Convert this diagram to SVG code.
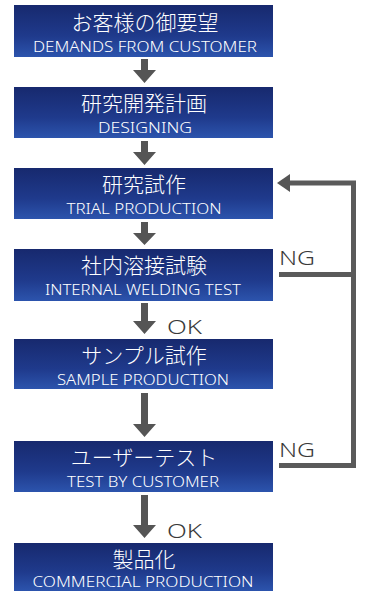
<svg xmlns="http://www.w3.org/2000/svg" width="365" height="592" viewBox="0 0 365 592">
<defs>
<linearGradient id="g" x1="0" y1="0" x2="0" y2="1">
<stop offset="0" stop-color="#17296e"/>
<stop offset="0.6" stop-color="#1f3a8c"/>
<stop offset="1" stop-color="#2c54ad"/>
</linearGradient>
<style>
.box{fill:url(#g);}
.jp{font-family:"Noto Sans CJK JP","Noto Sans",sans-serif;font-size:21px;font-weight:300;fill:#fff;text-anchor:middle;}
.en{font-family:"Noto Sans","Liberation Sans",sans-serif;font-size:15px;font-weight:300;fill:#fff;text-anchor:middle;}
.lbl{font-family:"Noto Sans","Liberation Sans",sans-serif;font-size:20px;font-weight:300;fill:#3a3a3a;}
.ar{fill:#555;}
.ln{fill:none;stroke:#5a5a5a;stroke-width:5;}
</style>
</defs>
<rect width="365" height="592" fill="#fff"/>
<g id="connectors">
<polygon class="ar" points="141,59 148,59 148,70 156,70 144.5,83 133,70 141,70"/>
<polygon class="ar" points="141,141 148,141 148,152 156,152 144.5,165 133,152 141,152"/>
<polygon class="ar" points="141,222 148,222 148,233 156,233 144.5,245 133,233 141,233"/>
<polygon class="ar" points="141,303 148,303 148,321 156,321 144.5,334 133,321 141,321"/>
<polygon class="ar" points="141,393 148,393 148,424 156,424 144.5,437 133,424 141,424"/>
<polygon class="ar" points="141,495 148,495 148,525 156,525 144.5,538 133,525 141,525"/>
<path class="ln" d="M279,465.5 H353.5 V183 H289"/>
<path class="ln" d="M279,274.5 H353.5"/>
<polygon class="ar" points="277,183 290,174 290,192"/>
<text class="lbl" x="167" y="334" textLength="35" lengthAdjust="spacingAndGlyphs">OK</text>
<text class="lbl" x="167" y="538" textLength="35" lengthAdjust="spacingAndGlyphs">OK</text>
<text class="lbl" x="279" y="265" textLength="36" lengthAdjust="spacingAndGlyphs">NG</text>
<text class="lbl" x="279" y="457" textLength="36" lengthAdjust="spacingAndGlyphs">NG</text>
</g>
<g id="n1"><rect class="box" x="14" y="5" width="259" height="52"/><text class="jp" x="145" y="30">お客様の御要望</text><text class="en" x="145" y="51.5" textLength="224" lengthAdjust="spacingAndGlyphs">DEMANDS FROM CUSTOMER</text></g>
<g id="n2"><rect class="box" x="14" y="87" width="259" height="51"/><text class="jp" x="144" y="111">研究開発計画</text><text class="en" x="145" y="132.5" textLength="94" lengthAdjust="spacingAndGlyphs">DESIGNING</text></g>
<g id="n3"><rect class="box" x="14" y="168" width="259" height="51"/><text class="jp" x="144" y="192">研究試作</text><text class="en" x="144" y="213.5" textLength="155" lengthAdjust="spacingAndGlyphs">TRIAL PRODUCTION</text></g>
<g id="n4"><rect class="box" x="14" y="249" width="259" height="52"/><text class="jp" x="144" y="273">社内溶接試験</text><text class="en" x="143" y="294.5" textLength="196" lengthAdjust="spacingAndGlyphs">INTERNAL WELDING TEST</text></g>
<g id="n5"><rect class="box" x="14" y="339" width="259" height="50"/><text class="jp" x="144" y="363">サンプル試作</text><text class="en" x="143" y="384.5" textLength="172" lengthAdjust="spacingAndGlyphs">SAMPLE PRODUCTION</text></g>
<g id="n6"><rect class="box" x="14" y="441" width="259" height="51"/><text class="jp" x="144" y="465">ユーザーテスト</text><text class="en" x="143" y="486.5" textLength="152" lengthAdjust="spacingAndGlyphs">TEST BY CUSTOMER</text></g>
<g id="n7"><rect class="box" x="14" y="543" width="259" height="48"/><text class="jp" x="144" y="567">製品化</text><text class="en" x="143" y="587" textLength="221" lengthAdjust="spacingAndGlyphs">COMMERCIAL PRODUCTION</text></g>
</svg>
